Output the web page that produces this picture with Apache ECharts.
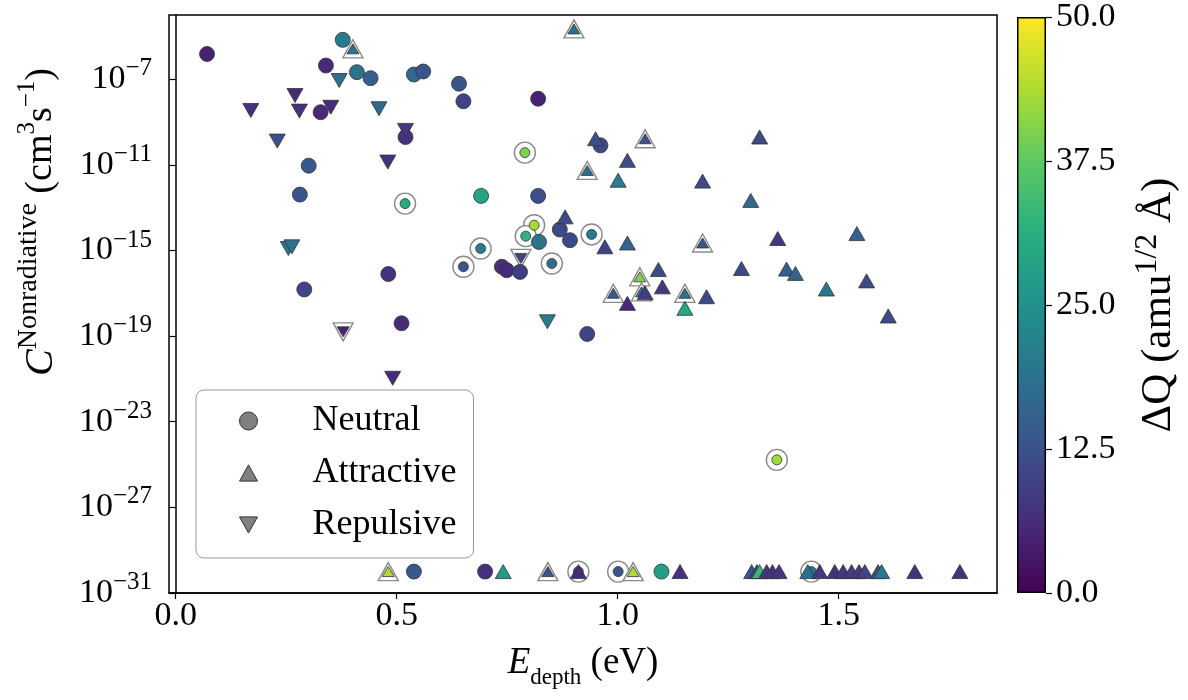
<!DOCTYPE html>
<html>
<head>
<meta charset="utf-8">
<script src="https://cdn.jsdelivr.net/npm/echarts@6/dist/echarts.min.js"></script>
<style>
  html, body { margin: 0; background: #fff; }
  #chart { width: 1188px; height: 700px; }
</style>
</head>
<body>
<div id="chart"></div>
<script>
// each point: [E_depth (eV), log10 C (cm^3 s^-1), dQ (amu^1/2 A), ringed]
const neutral = [
  [0.071, -5.82, 5, 0], [0.378, -5.16, 21, 0], [0.340, -6.36, 6, 0], [0.410, -6.67, 19, 0],
  [0.441, -6.95, 15, 0], [0.539, -6.78, 17, 0], [0.560, -6.64, 13, 0], [0.641, -7.21, 13, 0],
  [0.651, -8.03, 10, 0], [0.328, -8.54, 6, 0], [0.520, -9.70, 7, 0], [0.301, -11.04, 14, 0],
  [0.281, -12.39, 13, 0], [0.820, -7.91, 5, 0], [0.961, -10.09, 11, 0], [0.691, -12.45, 29, 0],
  [0.820, -12.45, 12, 0], [0.481, -16.10, 7, 0], [0.291, -16.82, 10, 0], [0.511, -18.40, 6, 0],
  [0.822, -14.60, 19, 0], [0.869, -14.02, 11, 0], [0.892, -14.52, 11, 0], [0.738, -15.76, 7, 0],
  [0.749, -15.92, 6, 0], [0.779, -16.00, 9, 0], [0.931, -18.90, 10, 0],
  [0.519, -12.81, 31, 1], [0.790, -10.43, 40, 1], [0.811, -13.82, 43, 1], [0.792, -14.33, 32, 1],
  [0.941, -14.25, 20, 1], [0.690, -14.91, 21, 1], [0.651, -15.76, 13, 1], [0.851, -15.61, 18, 1],
  [1.360, -24.78, 43, 1],
  [0.539, -30, 14, 0], [0.700, -30, 7, 0], [0.911, -30, 20, 1], [1.001, -30, 13, 1],
  [1.099, -30, 28, 0], [1.438, -30, 20, 1]
]
const attractive = [
  [0.401, -5.58, 18, 1], [0.901, -4.65, 18, 1], [0.950, -9.78, 12, 0], [1.062, -9.78, 13, 1],
  [1.022, -10.79, 12, 0], [0.931, -11.26, 18, 1], [1.001, -11.72, 21, 0], [1.192, -11.76, 11, 0],
  [1.321, -9.70, 11, 0], [1.301, -12.66, 17, 0], [0.881, -13.43, 11, 0], [0.971, -14.83, 10, 0],
  [1.022, -14.65, 16, 0], [1.192, -14.65, 13, 1], [1.092, -15.89, 11, 0], [1.050, -16.23, 40, 1],
  [1.101, -16.70, 8, 0], [1.054, -16.93, 18, 1], [1.062, -16.98, 9, 0], [0.990, -17.00, 14, 1],
  [1.022, -17.47, 6, 0], [1.152, -17.00, 18, 1], [1.152, -17.70, 30, 0], [1.201, -17.16, 11, 0],
  [1.280, -15.84, 11, 0], [1.362, -14.44, 8, 0], [1.541, -14.21, 15, 0], [1.382, -15.87, 15, 0],
  [1.402, -16.07, 16, 0], [1.472, -16.80, 20, 0], [1.563, -16.42, 11, 0], [1.612, -18.06, 11, 0],
  [0.481, -30, 44, 1], [0.741, -30, 27, 0], [0.842, -30, 13, 1], [0.911, -30, 6, 0],
  [1.035, -30, 44, 1], [1.141, -30, 7, 0], [1.303, -30, 13, 0], [1.315, -30, 9, 0],
  [1.321, -30, 33, 0], [1.337, -30, 8, 0], [1.350, -30, 7, 0], [1.365, -30, 8, 0],
  [1.430, -30, 18, 0], [1.457, -30, 8, 0], [1.491, -30, 7, 0], [1.510, -30, 8, 0],
  [1.529, -30, 9, 0], [1.546, -30, 8, 0], [1.559, -30, 10, 0], [1.589, -30, 12, 0],
  [1.597, -30, 20, 0], [1.672, -30, 7, 0], [1.774, -30, 7, 0]
]
const repulsive = [
  [0.370, -7.06, 18, 0], [0.270, -7.76, 6, 0], [0.170, -8.46, 7, 0], [0.280, -8.49, 7, 0],
  [0.351, -8.31, 6, 0], [0.460, -8.38, 17, 0], [0.230, -9.89, 12, 0], [0.520, -9.39, 8, 0],
  [0.480, -10.87, 7, 0], [0.255, -14.91, 19, 0], [0.263, -14.83, 19, 0], [0.379, -18.80, 5, 1],
  [0.491, -20.97, 6, 0], [0.781, -15.37, 10, 1], [0.841, -18.33, 21, 0]
]

const xTicks = [0, 0.5, 1.0, 1.5]
const yTicks = [-31, -27, -23, -19, -15, -11, -7]
const dqRange = [0, 50]
const viridis = ['#440154', '#472d7b', '#3b528b', '#2c728e', '#21918c', '#28ae80', '#5ec962', '#addc30', '#fde725']

const font = 'Liberation Serif'
var myChart = echarts.init(document.getElementById('chart'))

// grey underlay for the ringed points
function ringSeries(data, symbol, size, rotate) {
  return {
    type: 'scatter',
    data: data.filter(d => d[3]),
    symbol: symbol,
    symbolSize: size,
    symbolRotate: rotate,
    itemStyle: { color: '#fff', borderColor: '#8a8a8a', borderWidth: 1.4, opacity: 1 },
    z: 2,
    silent: true
  }
}

function mainSeries(name, data, symbol, size, ringSize, rotate) {
  return {
    name: name,
    type: 'scatter',
    data: data,
    symbol: symbol,
    symbolSize: v => v[3] ? ringSize : size,
    symbolRotate: rotate,
    itemStyle: { color: '#808080', borderColor: '#333', borderWidth: 0.8, opacity: 1 },
    z: 3
  }
}

let gradStops = viridis.map((c, i) => ({ offset: i / (viridis.length - 1), color: c }))

let option = {
  animation: false,
  textStyle: { fontFamily: font, color: '#000' },
  grid: [
    { left: 169, right: 191, top: 15, bottom: 107, show: true, borderColor: '#000', borderWidth: 1.5 },
    { left: 1017, width: 29, top: 15, bottom: 107 }
  ],
  xAxis: [{
    type: 'value', gridIndex: 0, min: -0.015, max: 1.858,
    axisLine: { show: true, lineStyle: { color: '#000', width: 1.5 } },
    axisTick: { show: true, customValues: xTicks, length: 6, lineStyle: { color: '#000', width: 1.2 } },
    axisLabel: { customValues: xTicks, formatter: v => v.toFixed(1), fontSize: 34, fontFamily: font, color: '#000', margin: 6 },
    splitLine: { show: false },
    name: '{e|E}{d|depth}{p| (eV)}',
    nameLocation: 'middle', nameGap: 44,
    nameTextStyle: {
      rich: {
        e: { fontSize: 37, fontStyle: 'italic', fontFamily: font, lineHeight: 52 },
        d: { fontSize: 23, fontFamily: font, verticalAlign: 'bottom' },
        p: { fontSize: 37, fontFamily: font, lineHeight: 52 }
      }
    }
  }, {
    type: 'category', gridIndex: 1, data: ['dQ'], show: false
  }],
  yAxis: [{
    type: 'value', gridIndex: 0, min: -31, max: -4,
    axisLine: { show: true, lineStyle: { color: '#000', width: 1.5 } },
    axisTick: { show: true, customValues: yTicks, length: 6, lineStyle: { color: '#000', width: 1.2 } },
    axisLabel: {
      customValues: yTicks, margin: 17,
      formatter: v => '{b|10}{s|' + (v < 0 ? '−' : '') + Math.abs(v) + '}',
      rich: {
        b: { fontSize: 34, fontFamily: font, color: '#000', lineHeight: 46 },
        s: { fontSize: 25, fontFamily: font, color: '#000', verticalAlign: 'top' }
      }
    },
    splitLine: { show: false }
  }, {
    type: 'value', gridIndex: 1, min: dqRange[0], max: dqRange[1], interval: 12.5, position: 'right',
    axisLine: { show: false },
    axisTick: { show: true, length: 6, lineStyle: { color: '#000', width: 1.2 } },
    axisLabel: { formatter: v => v.toFixed(1), fontSize: 34, fontFamily: font, color: '#000', margin: 10 },
    splitLine: { show: false },
    name: '{p|ΔQ (amu}{u|1/2}{p| Å)}',
    nameLocation: 'middle', nameRotate: 90, nameGap: 86,
    nameTextStyle: {
      rich: {
        p: { fontSize: 43, fontFamily: font, lineHeight: 54 },
        u: { fontSize: 32, fontFamily: font, verticalAlign: 'top' }
      }
    }
  }],
  visualMap: {
    type: 'continuous', show: false, dimension: 2, min: dqRange[0], max: dqRange[1],
    seriesIndex: [3, 4, 5],
    inRange: { color: viridis }
  },
  legend: {
    orient: 'vertical', left: 196, top: 390,
    padding: [13, 17, 15, 43], itemGap: 16, itemWidth: 18, itemHeight: 18,
    borderColor: '#999', borderWidth: 1, borderRadius: 8, backgroundColor: '#fff',
    selectedMode: false,
    itemStyle: { color: '#808080', borderColor: '#333', borderWidth: 1 },
    textStyle: { fontSize: 36, lineHeight: 30, fontFamily: font, color: '#000', padding: [0, 0, 0, 50] },
    data: [
      { name: 'Neutral', icon: 'circle' },
      { name: 'Attractive', icon: 'path://M5,0 L10,9 L0,9 Z' },
      { name: 'Repulsive', icon: 'path://M0,0 L10,0 L5,9 Z' }
    ]
  },
  graphic: [{
    type: 'text', x: 41, y: 222, rotation: Math.PI / 2,
    style: {
      text: '{c|C}{n|Nonradiative}{p| (cm}{u|3}{p|s}{u|−1}{p|)}',
      align: 'center', verticalAlign: 'middle', fill: '#000',
      rich: {
        c: { fontSize: 40, fontStyle: 'italic', fontFamily: font, lineHeight: 52 },
        n: { fontSize: 28, fontFamily: font, verticalAlign: 'top' },
        p: { fontSize: 38, fontFamily: font, lineHeight: 52 },
        u: { fontSize: 25, fontFamily: font, verticalAlign: 'top' }
      }
    }
  }],
  series: [
    ringSeries(neutral, 'circle', 21, 0),
    ringSeries(attractive, 'triangle', [20, 18], 0),
    ringSeries(repulsive, 'triangle', [20, 18], 180),
    mainSeries('Neutral', neutral, 'circle', 15, 10, 0),
    mainSeries('Attractive', attractive, 'triangle', [16, 14], [12, 10], 0),
    mainSeries('Repulsive', repulsive, 'triangle', [16, 14], [12, 10], 180),
    {
      type: 'bar', xAxisIndex: 1, yAxisIndex: 1, data: [dqRange[1]], barWidth: '100%', silent: true,
      itemStyle: {
        color: { type: 'linear', x: 0, y: 1, x2: 0, y2: 0, colorStops: gradStops },
        borderColor: '#000', borderWidth: 1.5
      }
    }
  ]
}

myChart.setOption(option)
</script>
</body>
</html>
